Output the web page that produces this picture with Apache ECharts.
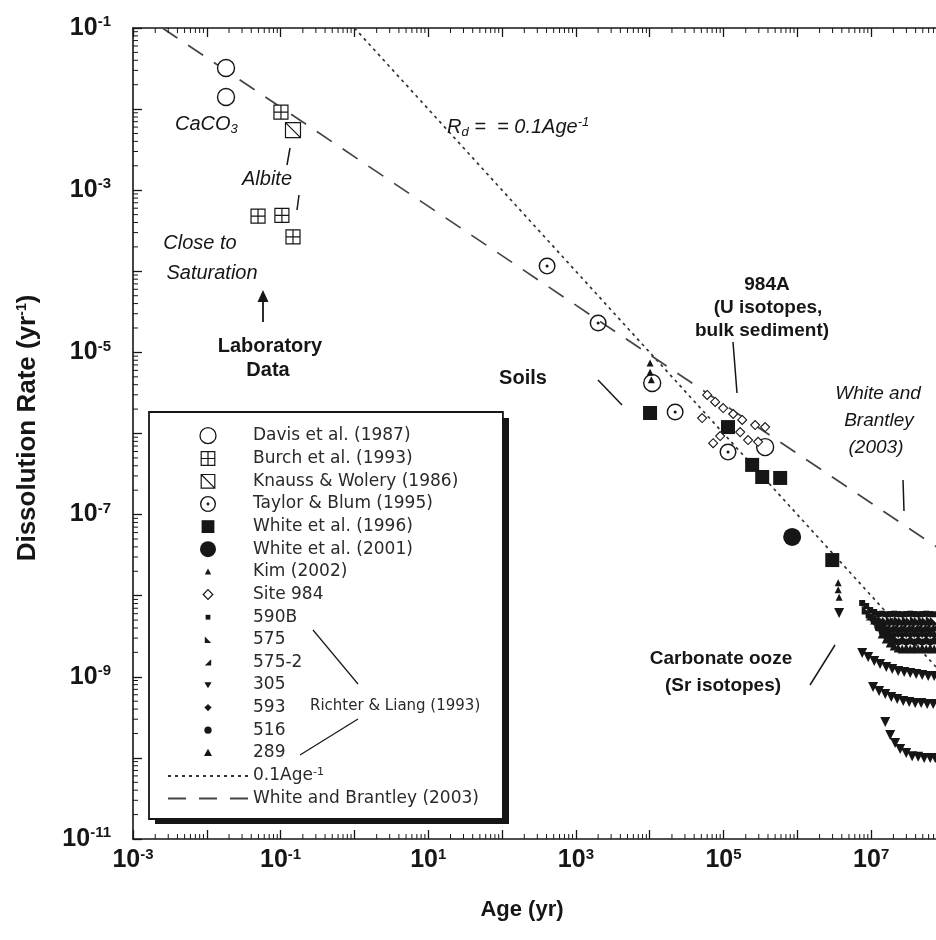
<!DOCTYPE html>
<html>
<head>
<meta charset="utf-8">
<script src="https://cdn.jsdelivr.net/npm/echarts@6.0.0/dist/echarts.min.js"></script>
<style>
html,body{margin:0;padding:0;background:#ffffff;}
#chart{width:936px;height:940px;}
</style>
</head>
<body>
<div id="chart"></div>
<script>
// ---------- axis ranges (exponents of ten) ----------
const xExpRange = [-3, 8];
const yExpRange = [-11, -1];

// ---------- data: [age (yr), dissolution rate (1/yr)] ----------
const davis1987 = [[0.0182, 0.0321], [0.0182, 0.0141], [1.08e4, 4.2e-6], [3.66e5, 6.8e-7]];
const burch1993 = [[0.101, 9.2e-3], [0.0494, 4.8e-4], [0.104, 4.9e-4], [0.147, 2.65e-4]];
const knauss1986 = [[0.147, 5.5e-3]];
const taylor1995 = [[407, 1.16e-4], [2000, 2.3e-5], [2.21e4, 1.84e-6], [1.15e5, 5.9e-7]];
const white1996 = [[1.01e4, 1.79e-6], [1.15e5, 1.2e-6], [2.44e5, 4.1e-7], [3.34e5, 2.91e-7], [5.85e5, 2.83e-7], [2.97e6, 2.75e-8]];
const white2001 = [[8.5e5, 5.3e-8]];
const kim2002 = [[1.01e4, 7.4e-6], [1.01e4, 5.7e-6], [1.05e4, 4.6e-6], [3.57e6, 1.44e-8], [3.57e6, 1.18e-8], [3.68e6, 9.6e-9]];
const site984 = [[6.0e4, 2.99e-6], [7.7e4, 2.45e-6], [9.88e4, 2.06e-6], [1.35e5, 1.74e-6], [5.13e4, 1.55e-6], [7.23e4, 7.6e-7], [9.0e4, 9.3e-7], [1.68e5, 1.04e-6], [1.79e5, 1.47e-6], [2.68e5, 1.27e-6], [3.66e5, 1.2e-6], [2.94e5, 7.9e-7], [2.15e5, 8.3e-7]];
const site590B = [[7.55e6, 8.13e-9], [8.55e6, 7.47e-9], [9.68e6, 6.66e-9], [1.10e7, 6.30e-9], [1.24e7, 5.94e-9], [1.41e7, 6.0e-9], [1.60e7, 5.9e-9], [1.81e7, 5.94e-9], [2.05e7, 6.0e-9], [2.32e7, 5.94e-9], [2.63e7, 5.9e-9], [2.98e7, 5.94e-9], [3.38e7, 6.0e-9], [3.83e7, 5.94e-9], [4.33e7, 5.9e-9], [4.91e7, 5.94e-9], [5.56e7, 6.0e-9], [6.30e7, 5.94e-9], [7.14e7, 5.9e-9]];
const site575 = [[8.55e6, 6.66e-9], [9.68e6, 5.94e-9], [1.10e7, 5.46e-9], [1.24e7, 5.16e-9], [1.41e7, 5.01e-9], [1.60e7, 4.88e-9], [1.81e7, 5.01e-9], [2.05e7, 4.88e-9], [2.32e7, 5.01e-9], [2.63e7, 4.88e-9], [2.98e7, 5.01e-9], [3.38e7, 4.88e-9], [3.83e7, 5.01e-9], [4.33e7, 4.88e-9], [4.91e7, 5.01e-9], [5.56e7, 4.88e-9], [6.30e7, 5.01e-9], [7.14e7, 4.88e-9]];
const site575b = [[9.68e6, 5.62e-9], [1.10e7, 5.01e-9], [1.24e7, 4.61e-9], [1.41e7, 4.35e-9], [1.60e7, 4.11e-9], [1.81e7, 4.0e-9], [2.05e7, 4.11e-9], [2.32e7, 4.0e-9], [2.63e7, 4.11e-9], [2.98e7, 4.0e-9], [3.38e7, 4.11e-9], [3.83e7, 4.0e-9], [4.33e7, 4.11e-9], [4.91e7, 4.0e-9], [5.56e7, 4.11e-9], [6.30e7, 4.0e-9], [7.14e7, 4.11e-9]];
const site305 = [[3.68e6, 6.12e-9],
  [7.55e6, 1.96e-9], [9.10e6, 1.75e-9], [1.10e7, 1.57e-9], [1.32e7, 1.44e-9], [1.60e7, 1.32e-9], [1.93e7, 1.25e-9], [2.32e7, 1.18e-9], [2.80e7, 1.15e-9], [3.38e7, 1.11e-9], [4.07e7, 1.08e-9], [4.91e7, 1.05e-9], [5.92e7, 1.02e-9], [7.14e7, 1.02e-9],
  [1.06e7, 7.49e-10], [1.28e7, 6.69e-10], [1.55e7, 6.14e-10], [1.87e7, 5.64e-10], [2.25e7, 5.32e-10], [2.72e7, 5.03e-10], [3.27e7, 4.89e-10], [3.95e7, 4.75e-10], [4.76e7, 4.75e-10], [5.74e7, 4.62e-10], [6.92e7, 4.62e-10],
  [1.55e7, 2.77e-10], [1.81e7, 1.92e-10], [2.11e7, 1.53e-10], [2.47e7, 1.29e-10], [2.98e7, 1.15e-10], [3.59e7, 1.05e-10], [4.33e7, 1.03e-10], [5.22e7, 9.98e-11], [6.30e7, 9.98e-11], [7.37e7, 9.98e-11]];
const site593 = [[1.10e7, 4.74e-9], [1.24e7, 4.23e-9], [1.41e7, 3.88e-9], [1.60e7, 3.57e-9], [1.81e7, 3.37e-9], [2.05e7, 3.28e-9], [2.32e7, 3.37e-9], [2.63e7, 3.28e-9], [2.98e7, 3.37e-9], [3.38e7, 3.28e-9], [3.83e7, 3.37e-9], [4.33e7, 3.28e-9], [4.91e7, 3.37e-9], [5.56e7, 3.28e-9], [6.30e7, 3.37e-9], [7.14e7, 3.28e-9]];
const site516 = [[1.24e7, 4.0e-9], [1.41e7, 3.57e-9], [1.60e7, 3.18e-9], [1.81e7, 2.92e-9], [2.05e7, 2.76e-9], [2.32e7, 2.68e-9], [2.63e7, 2.76e-9], [2.98e7, 2.68e-9], [3.38e7, 2.76e-9], [3.83e7, 2.68e-9], [4.33e7, 2.76e-9], [4.91e7, 2.68e-9], [5.56e7, 2.76e-9], [6.30e7, 2.68e-9], [7.14e7, 2.76e-9]];
const site289 = [[1.41e7, 3.37e-9], [1.60e7, 2.92e-9], [1.81e7, 2.61e-9], [2.05e7, 2.40e-9], [2.32e7, 2.26e-9], [2.63e7, 2.20e-9], [2.98e7, 2.26e-9], [3.38e7, 2.20e-9], [3.83e7, 2.26e-9], [4.33e7, 2.20e-9], [4.91e7, 2.26e-9], [5.56e7, 2.20e-9], [6.30e7, 2.26e-9], [7.14e7, 2.20e-9]];
const trendDotted = [[1, 0.1], [1e8, 1e-9]];          // 0.1 Age^-1
const trendDashed = [[0.0025, 0.1], [1e8, 3.4e-8]];    // White and Brantley (2003)

// ---------- helpers ----------
const INK = '#161616';
const TXT = '#2a2a2a';
const lg = p => [Math.log10(p[0]), Math.log10(p[1])];
const SYM = {
  grid: 'path://M0,0L10,0L10,10L0,10Z M5,0L5,10 M0,5L10,5',
  slash: 'path://M0,0L10,0L10,10L0,10Z M0,0L10,10',
  dotCircle: 'path://M10,0A10,10 0 1,1 10,20A10,10 0 1,1 10,0Z M10,1.7A8.3,8.3 0 1,0 10,18.3A8.3,8.3 0 1,0 10,1.7Z M10,8.2A1.8,1.8 0 1,1 10,11.8A1.8,1.8 0 1,1 10,8.2Z',
  triBL: 'path://M0,0L10,10L0,10Z',
  triBR: 'path://M10,0L10,10L0,10Z'
};
const ICON = {
  burch: 'path://M0,0M20,20M1.5,1.5L18.5,1.5L18.5,18.5L1.5,18.5Z M10,1.5L10,18.5 M1.5,10L18.5,10',
  knauss: 'path://M0,0M20,20M1.5,1.5L18.5,1.5L18.5,18.5L1.5,18.5Z M1.5,1.5L18.5,18.5',
  taylor: SYM.dotCircle,
  white96: 'path://M0,0M20,20M2,2L18,2L18,18L2,18Z',
  kim: 'path://M0,0M20,20M10,6L14,13.5L6,13.5Z',
  site984: 'path://M0,0M20,20M10,4L16,10L10,16L4,10Z',
  s590B: 'path://M0,0M20,20M7,7L13,7L13,13L7,13Z',
  s575: 'path://M0,0M20,20M6,6L14,14L6,14Z',
  s575b: 'path://M0,0M20,20M14,6L14,14L6,14Z',
  s305: 'path://M0,0M20,20M5.5,6.5L14.5,6.5L10,14Z',
  s593: 'path://M0,0M20,20M10,5.5L14.5,10L10,14.5L5.5,10Z',
  s516: 'path://M0,0M20,20M10,5.5A4.5,4.5 0 1,1 10,14.5A4.5,4.5 0 1,1 10,5.5Z',
  s289: 'path://M0,0M20,20M10,5L15,14L5,14Z'
};
const filled = { color: INK, opacity: 1 };
const open = { color: '#ffffff', borderColor: INK, borderWidth: 1.4, opacity: 1 };
const openThin = { color: '#ffffff', borderColor: INK, borderWidth: 1.2, opacity: 1 };
function scatter(name, data, symbol, size, style, extra) {
  return Object.assign({ type: 'scatter', name: name, data: data.map(lg), symbol: symbol, symbolSize: size,
    itemStyle: style, z: 3, silent: true, animation: false }, extra || {});
}

// minor tick positions (2..9 x 10^n)
const minorTicks = [];
for (let d = xExpRange[0]; d < xExpRange[1]; d++) for (let k = 2; k <= 9; k++) minorTicks.push([d + Math.log10(k), 0]);
for (let d = yExpRange[0]; d < yExpRange[1]; d++) for (let k = 2; k <= 9; k++) minorTicks.push([d + Math.log10(k), 1]);

const labelRich = {
  b: { fontSize: 25, fontWeight: 'bold', fontFamily: 'Liberation Sans', color: INK },
  s: { fontSize: 15, fontWeight: 'bold', fontFamily: 'Liberation Sans', color: INK, padding: [0, 0, 12, 0] }
};
const powLabel = v => { const n = Math.round(v); return (Math.abs(n) % 2 === 1) ? '{b|10}{s|' + n + '}' : ''; };

function T(x, y, text, font, extra) {
  return { type: 'text', x: x, y: y, z: 100, silent: true,
    style: Object.assign({ text: text, font: font, fill: INK, textAlign: 'center', textVerticalAlign: 'middle', align: 'center', verticalAlign: 'middle' }, extra || {}) };
}
function Ln(x1, y1, x2, y2, w) {
  return { type: 'line', z: 100, silent: true, shape: { x1: x1, y1: y1, x2: x2, y2: y2 }, style: { stroke: INK, lineWidth: w || 1.5 } };
}
const IT = 'italic 20px "Liberation Sans"';
const BD = 'bold 19px "Liberation Sans"';
const BD2 = 'bold 20px "Liberation Sans"';

const chart = echarts.init(document.getElementById('chart'), null, { renderer: 'canvas' });
chart.setOption({
  animation: false,
  backgroundColor: '#ffffff',
  grid: { left: 133, top: 28, right: -9, bottom: 101, containLabel: false, outerBoundsMode: 'none' },
  xAxis: [{
    type: 'value', min: xExpRange[0], max: xExpRange[1], interval: 1, position: 'bottom',
    axisLine: { show: true, onZero: false, lineStyle: { color: INK, width: 1.6 } },
    axisTick: { show: true, inside: true, length: 9, lineStyle: { color: INK, width: 1.3 } },
    axisLabel: { margin: 8, formatter: powLabel, rich: labelRich },
    splitLine: { show: false }
  }, {
    type: 'value', min: xExpRange[0], max: xExpRange[1], interval: 1, position: 'top',
    axisLine: { show: true, onZero: false, lineStyle: { color: INK, width: 1.6 } },
    axisTick: { show: true, inside: true, length: 9, lineStyle: { color: INK, width: 1.3 } },
    axisLabel: { show: false }, splitLine: { show: false }
  }],
  yAxis: [{
    type: 'value', min: yExpRange[0], max: yExpRange[1], interval: 1, position: 'left',
    axisLine: { show: true, onZero: false, lineStyle: { color: INK, width: 1.6 } },
    axisTick: { show: true, inside: true, length: 9, lineStyle: { color: INK, width: 1.3 } },
    axisLabel: { margin: 22, formatter: powLabel, rich: labelRich },
    splitLine: { show: false }
  }],
  legend: {
    orient: 'vertical', left: 149, top: 412, z: 4,
    padding: [15, 24, 12, 18],
    itemWidth: 80, itemHeight: 16, itemGap: 5.6,
    backgroundColor: '#ffffff', borderColor: INK, borderWidth: 1.8,
    selectedMode: false,
    textStyle: { fontFamily: 'DejaVu Sans', fontSize: 17, color: TXT, lineHeight: 16,
      rich: { s: { fontFamily: 'DejaVu Sans', fontSize: 11, color: TXT, padding: [0, 0, 7, 0] } } },
    formatter: n => n === '0.1Age-1' ? '0.1Age{s|-1}' : n,
    data: [
      { name: 'Davis et al. (1987)', icon: 'circle', itemStyle: { borderWidth: 1.3 } },
      { name: 'Burch et al. (1993)', icon: ICON.burch, itemStyle: { borderWidth: 1.2 } },
      { name: 'Knauss & Wolery (1986)', icon: ICON.knauss, itemStyle: { borderWidth: 1.2 } },
      { name: 'Taylor & Blum (1995)', icon: ICON.taylor },
      { name: 'White et al. (1996)', icon: ICON.white96 },
      { name: 'White et al. (2001)', icon: 'circle' },
      { name: 'Kim (2002)', icon: ICON.kim },
      { name: 'Site 984', icon: ICON.site984, itemStyle: { borderWidth: 1.2 } },
      { name: '590B', icon: ICON.s590B },
      { name: '575', icon: ICON.s575 },
      { name: '575-2', icon: ICON.s575b },
      { name: '305', icon: ICON.s305 },
      { name: '593', icon: ICON.s593 },
      { name: '516', icon: ICON.s516 },
      { name: '289', icon: ICON.s289 },
      { name: '0.1Age-1' },
      { name: 'White and Brantley (2003)' }
    ]
  },
  series: [
    { type: 'line', name: '0.1Age-1', data: trendDotted.map(lg), symbol: 'circle', showSymbol: false, silent: true, z: 1,
      itemStyle: { color: 'rgba(0,0,0,0)' },
      lineStyle: { type: [3, 4], width: 1.7, color: '#333333' } },
    { type: 'line', name: 'White and Brantley (2003)', data: trendDashed.map(lg), symbol: 'circle', showSymbol: false, silent: true, z: 1,
      itemStyle: { color: 'rgba(0,0,0,0)' },
      lineStyle: { type: [18, 13], width: 1.7, color: '#444444' } },
    scatter('Davis et al. (1987)', davis1987, 'circle', 17, open),
    scatter('Burch et al. (1993)', burch1993, SYM.grid, 14, openThin),
    scatter('Knauss & Wolery (1986)', knauss1986, SYM.slash, 15, openThin),
    scatter('Taylor & Blum (1995)', taylor1995, SYM.dotCircle, 17, filled),
    scatter('White et al. (1996)', white1996, 'rect', 14, filled),
    scatter('White et al. (2001)', white2001, 'circle', 18, filled),
    scatter('Kim (2002)', kim2002, 'triangle', 7, filled),
    scatter('Site 984', site984, 'diamond', 9, { color: '#fff', borderColor: INK, borderWidth: 1.1, opacity: 1 }),
    scatter('590B', site590B, 'rect', 6, filled),
    scatter('575', site575, SYM.triBL, 9, filled),
    scatter('575-2', site575b, SYM.triBR, 9, filled),
    scatter('305', site305, 'triangle', 10, filled, { symbolRotate: 180 }),
    scatter('593', site593, 'diamond', 8, filled),
    scatter('516', site516, 'circle', 7, filled),
    scatter('289', site289, 'triangle', 9, filled),
    {
      type: 'custom', name: 'minor ticks', silent: true, z: 5, clip: false, data: minorTicks,
      renderItem: function (params, api) {
        const v = api.value(0), isY = api.value(1) === 1, len = 5;
        const st = { stroke: INK, lineWidth: 1 };
        if (!isY) {
          const b = api.coord([v, yExpRange[0]]), t = api.coord([v, yExpRange[1]]);
          return { type: 'group', children: [
            { type: 'line', shape: { x1: b[0], y1: b[1], x2: b[0], y2: b[1] - len }, style: st },
            { type: 'line', shape: { x1: t[0], y1: t[1], x2: t[0], y2: t[1] + len }, style: st }] };
        }
        const l = api.coord([xExpRange[0], v]), r = api.coord([xExpRange[1], v]);
        return { type: 'group', children: [
          { type: 'line', shape: { x1: l[0], y1: l[1], x2: l[0] + len, y2: l[1] }, style: st },
          { type: 'line', shape: { x1: r[0], y1: r[1], x2: r[0] - len, y2: r[1] }, style: st }] };
      }
    }
  ],
  graphic: [
    // legend drop shadow (drawn beneath the legend box)
    { type: 'rect', z: 1, silent: true, shape: { x: 155, y: 418, width: 354, height: 406 }, style: { fill: INK } },
    // axis titles
    T(522, 910, 'Age (yr)', 'bold 22px "Liberation Sans"'),
    { type: 'text', x: 28, y: 428, rotation: Math.PI / 2, z: 100, silent: true,
      style: { text: 'Dissolution Rate (yr{s|-1})', font: 'bold 26px "Liberation Sans"', fill: INK,
        textAlign: 'center', textVerticalAlign: 'middle', align: 'center', verticalAlign: 'middle',
        rich: { s: { fontSize: 14, fontWeight: 'bold', fontFamily: 'Liberation Sans', fill: INK, color: INK, padding: [0, 0, 11, 0] } } } },
    // laboratory data annotations
    T(175, 124, 'CaCO{s|3}', IT, { textAlign: 'left', align: 'left',
      rich: { s: { fontSize: 13, fontStyle: 'italic', fontFamily: 'Liberation Sans', color: INK, padding: [10, 0, 0, 0] } } }),
    Ln(290, 148, 287, 165),
    T(267, 179, 'Albite', IT),
    Ln(299, 195, 297, 210),
    T(200, 243, 'Close to', IT),
    T(212, 273, 'Saturation', IT),
    Ln(263, 322, 263, 299, 1.8),
    { type: 'polygon', z: 100, silent: true, shape: { points: [[263, 290], [257.5, 302], [268.5, 302]] }, style: { fill: INK } },
    T(270, 346, 'Laboratory', BD2),
    T(268, 370, 'Data', BD2),
    // rate law label
    T(447, 127, '{i|R}{d|d}{i| =  = 0.1Age}{u|-1}', IT, { textAlign: 'left', align: 'left',
      rich: { i: { fontSize: 20, fontStyle: 'italic', fontFamily: 'Liberation Sans', color: '#2a2a2a' },
              d: { fontSize: 13, fontStyle: 'italic', fontFamily: 'Liberation Sans', color: '#2a2a2a', padding: [10, 0, 0, 0] },
              u: { fontSize: 13, fontStyle: 'italic', fontFamily: 'Liberation Sans', color: '#2a2a2a', padding: [0, 0, 10, 0] } } }),
    // 984A
    T(767, 285, '984A', BD),
    T(768, 308, '(U isotopes,', BD),
    T(762, 331, 'bulk sediment)', BD),
    Ln(733, 342, 737, 393),
    // soils
    T(523, 378, 'Soils', BD2),
    Ln(598, 380, 622, 405),
    // White and Brantley
    T(878, 394, 'White and', 'italic 19px "Liberation Sans"'),
    T(879, 421, 'Brantley', 'italic 19px "Liberation Sans"'),
    T(876, 448, '(2003)', 'italic 19px "Liberation Sans"'),
    Ln(903, 480, 904, 511),
    // carbonate ooze
    T(721, 659, 'Carbonate ooze', BD),
    T(723, 686, '(Sr isotopes)', BD),
    Ln(810, 685, 835, 645),
    // legend group annotation
    T(310, 706, 'Richter & Liang (1993)', '15px "DejaVu Sans"', { textAlign: 'left', align: 'left', fill: TXT }),
    Ln(313, 630, 358, 684, 1.2),
    Ln(358, 719, 300, 755, 1.2)
  ]
});
</script>
</body>
</html>
